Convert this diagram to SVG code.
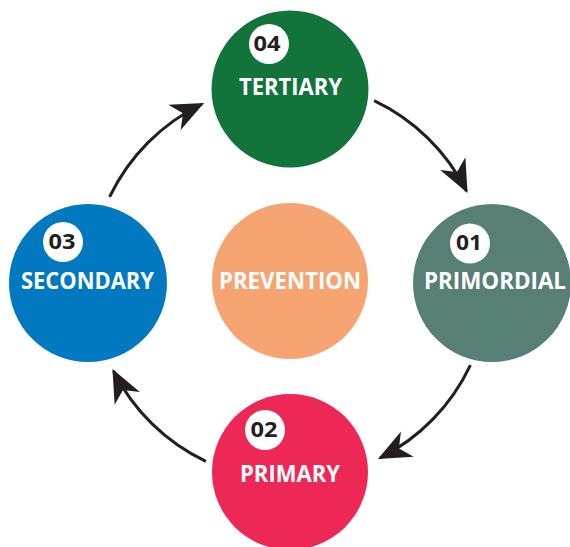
<svg xmlns="http://www.w3.org/2000/svg" width="570" height="547" viewBox="0 0 570 547">
  <defs>
    <style>
      .label { font-family: "Open Sans", "Liberation Sans", sans-serif; font-weight: bold; font-size: 22.5px; fill: #ffffff; text-anchor: middle; }
      .num { font-family: "Open Sans", "Liberation Sans", sans-serif; font-weight: bold; font-size: 22px; fill: #231f20; text-anchor: middle; }
      .badge { fill: #ffffff; }
      .conn { fill: none; stroke: #231f20; stroke-width: 3; marker-end: url(#arrow); }
    </style>
    <marker id="arrow" markerUnits="userSpaceOnUse" markerWidth="40" markerHeight="40" viewBox="-30 -15 34 30" refX="0" refY="0" orient="auto">
      <path d="M2,0 L-26,-12 L-18,0 L-26,12 Z" fill="#231f20"/>
    </marker>
  </defs>
  <rect width="570" height="547" fill="#ffffff"/>

  <g id="connectors">
    <path class="conn" d="M374.1,100.6 A199,199 0 0 1 466.5,191"/>
    <path class="conn" d="M470.4,365.1 A199,199 0 0 1 380,458"/>
    <path class="conn" d="M205.9,461.4 A199,199 0 0 1 113.5,371"/>
    <path class="conn" d="M109.6,196.9 A199,199 0 0 1 202,104"/>
  </g>

  <g id="prevention">
    <circle cx="290" cy="281" r="78" fill="#f6a472"/>
    <text class="label" x="290" y="289" textLength="142" lengthAdjust="spacingAndGlyphs">PREVENTION</text>
  </g>

  <g id="tertiary">
    <circle cx="290" cy="89" r="78.5" fill="#12743b"/>
    <circle class="badge" cx="269" cy="44" r="20"/>
    <text class="num" x="267" y="50.5" textLength="27" lengthAdjust="spacingAndGlyphs">04</text>
    <text class="label" x="290.5" y="95" textLength="103" lengthAdjust="spacingAndGlyphs">TERTIARY</text>
  </g>

  <g id="primordial">
    <circle cx="492" cy="283" r="79" fill="#577f75"/>
    <circle class="badge" cx="470" cy="243.5" r="20"/>
    <text class="num" x="469" y="249.5" textLength="26" lengthAdjust="spacingAndGlyphs">01</text>
    <text class="label" x="495" y="289" textLength="142" lengthAdjust="spacingAndGlyphs">PRIMORDIAL</text>
  </g>

  <g id="primary">
    <circle cx="290" cy="472" r="78" fill="#ee2856"/>
    <circle class="badge" cx="265" cy="430" r="20"/>
    <text class="num" x="264" y="436.5" textLength="27" lengthAdjust="spacingAndGlyphs">02</text>
    <text class="label" x="290" y="482" textLength="100" lengthAdjust="spacingAndGlyphs">PRIMARY</text>
  </g>

  <g id="secondary">
    <circle cx="88" cy="283" r="79" fill="#0079c1"/>
    <circle class="badge" cx="63" cy="242" r="20"/>
    <text class="num" x="62" y="248.5" textLength="27" lengthAdjust="spacingAndGlyphs">03</text>
    <text class="label" x="87.5" y="289" textLength="133" lengthAdjust="spacingAndGlyphs">SECONDARY</text>
  </g>
</svg>
